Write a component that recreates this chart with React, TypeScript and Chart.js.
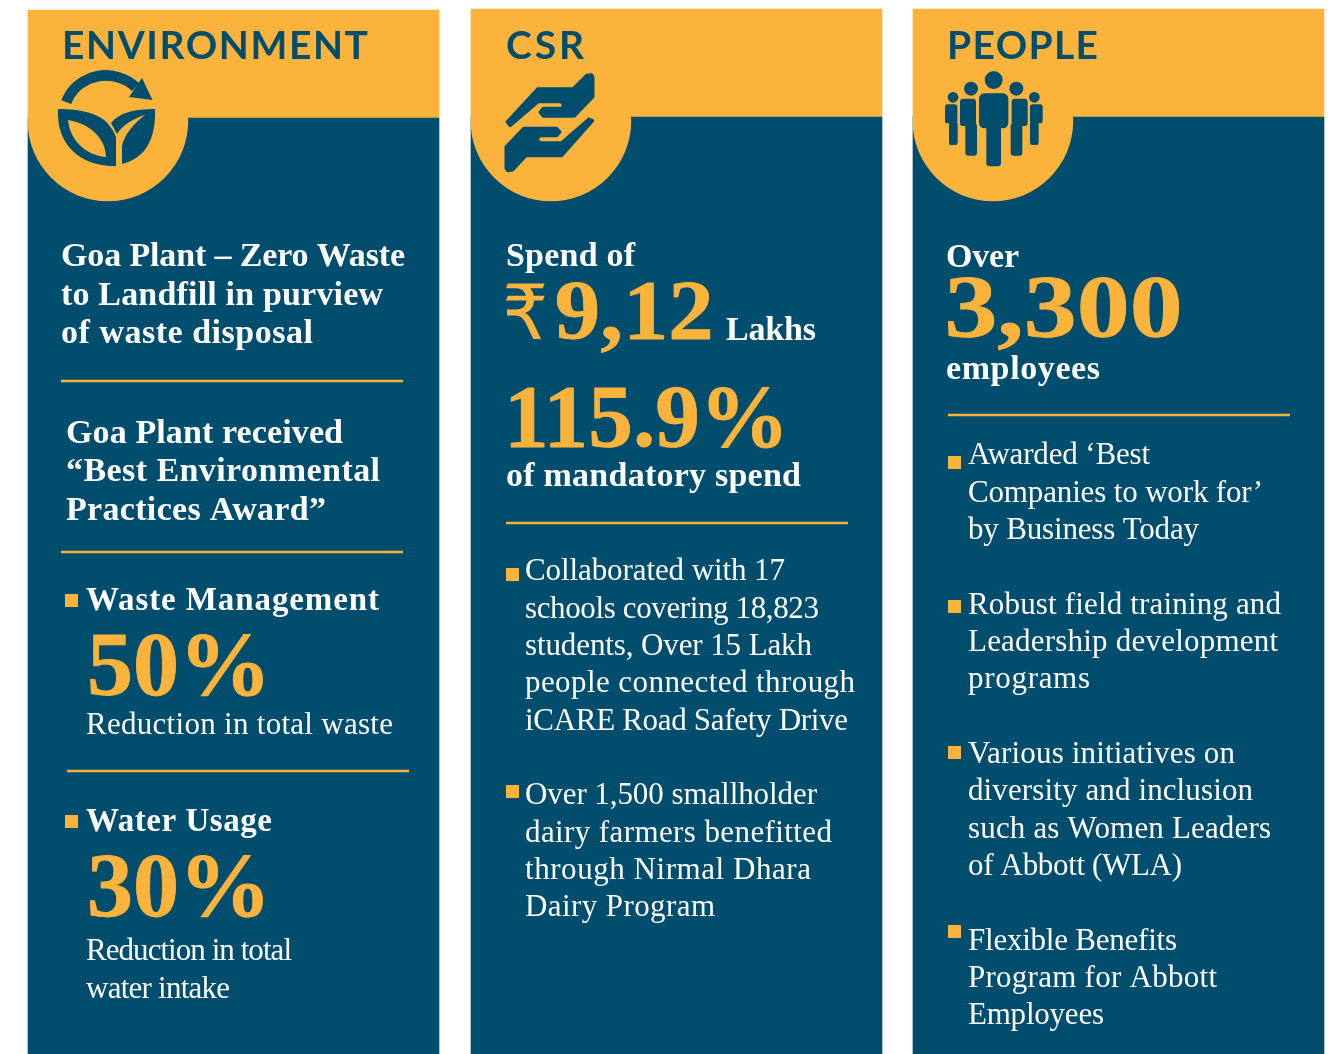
import React, { useEffect, useRef } from "react";
import { Chart, registerables } from "chart.js";

Chart.register(...registerables);

// ---------- data ----------
const pillars = ["ENVIRONMENT", "CSR", "PEOPLE"];
const bandTop = [10, 9, 9];
const bandBottom = [118, 117, 117];
const panelBottom = [1054, 1054, 1054];

const envHeadline = ["Goa Plant – Zero Waste", "to Landfill in purview", "of waste disposal"];
const envAward = ["Goa Plant received", "“Best Environmental", "Practices Award”"];
const envMetricLabels = ["Waste Management", "Water Usage"];
const envMetricValues = ["50%", "30%"];
const envMetricNotes = ["Reduction in total waste", "Reduction in total", "water intake"];

const csrIntro = ["Spend of", "₹", "9,12", "Lakhs", "115.9%", "of mandatory spend"];
const csrBullets = [
  "Collaborated with 17", "schools covering 18,823", "students, Over 15 Lakh", "people connected through", "iCARE Road Safety Drive",
  "Over 1,500 smallholder", "dairy farmers benefitted", "through Nirmal Dhara", "Dairy Program",
];

const peopleIntro = ["Over", "3,300", "employees"];
const peopleBullets = [
  "Awarded ‘Best", "Companies to work for’", "by Business Today",
  "Robust field training and", "Leadership development", "programs",
  "Various initiatives on", "diversity and inclusion", "such as Women Leaders", "of Abbott (WLA)",
  "Flexible Benefits", "Program for Abbott", "Employees",
];

// ---------- style ----------
const NAVY = "#004D6E";
const ORANGE = "#FBB33B";
const WHITE = "#FFFFFF";
const SERIF = '"Liberation Serif", serif';
const SANS = 'Lato, sans-serif';

function put(ctx: CanvasRenderingContext2D, text: string, x: number, base: number, right: number, font: string, color: string) {
  ctx.font = font;
  (ctx as any).letterSpacing = "0px";
  const w = ctx.measureText(text).width;
  const n = Math.max(1, text.length - 1);
  (ctx as any).letterSpacing = `${(right - x - w) / n}px`;
  ctx.fillStyle = color;
  ctx.textBaseline = "alphabetic";
  ctx.textAlign = "left";
  ctx.fillText(text, x, base);
  (ctx as any).letterSpacing = "0px";
}

// big figures: stretched horizontally to the target ink width
function fit(ctx: CanvasRenderingContext2D, text: string, x: number, base: number, right: number, font: string, color: string, heavy = 0.8) {
  ctx.font = font;
  (ctx as any).letterSpacing = "0px";
  ctx.textBaseline = "alphabetic";
  ctx.textAlign = "left";
  const m = ctx.measureText(text);
  const ink = m.actualBoundingBoxRight + m.actualBoundingBoxLeft;
  const sx = (right - x) / ink;
  ctx.save();
  ctx.translate(x + m.actualBoundingBoxLeft * sx, base);
  ctx.scale(sx, 1);
  ctx.fillStyle = color;
  ctx.fillText(text, 0, 0);
  if (heavy > 0) {
    ctx.strokeStyle = color;
    ctx.lineWidth = heavy;
    ctx.lineJoin = "round";
    ctx.strokeText(text, 0, 0);
  }
  ctx.restore();
}

function rule(ctx: CanvasRenderingContext2D, x0: number, x1: number, y: number) {
  ctx.fillStyle = ORANGE;
  ctx.fillRect(x0, y - 1.25, x1 - x0, 2.5);
}

function bullet(ctx: CanvasRenderingContext2D, x: number, y: number) {
  ctx.fillStyle = ORANGE;
  ctx.fillRect(x, y, 13, 13);
}

function poly(ctx: CanvasRenderingContext2D, ox: number, pts: number[][], lw: number) {
  ctx.beginPath();
  pts.forEach(([x, y], i) => {
    const px = ox + x / 3;
    const py = y / 3;
    if (i) ctx.lineTo(px, py);
    else ctx.moveTo(px, py);
  });
  ctx.closePath();
  ctx.lineJoin = "round";
  ctx.lineWidth = lw;
  ctx.strokeStyle = NAVY;
  ctx.fillStyle = NAVY;
  ctx.fill();
  ctx.stroke();
}

function envIcon(ctx: CanvasRenderingContext2D) {
  ctx.strokeStyle = NAVY;
  ctx.fillStyle = NAVY;
  ctx.lineWidth = 10.5;
  ctx.lineCap = "butt";
  ctx.beginPath();
  ctx.ellipse(106, 115, 42, 39.5, 0, (-161 * Math.PI) / 180, (-45 * Math.PI) / 180);
  ctx.stroke();
  ctx.beginPath();
  ctx.moveTo(152.5, 100);
  ctx.lineTo(142, 78);
  ctx.lineTo(129, 97);
  ctx.closePath();
  ctx.fill();

  const leaves = new Path2D();
  leaves.moveTo(58, 109);
  leaves.bezierCurveTo(80, 109, 100, 113, 109, 125);
  leaves.quadraticCurveTo(114, 131, 116, 137);
  leaves.lineTo(116, 166);
  leaves.bezierCurveTo(82, 167, 56, 146, 58, 109);
  leaves.closePath();
  leaves.moveTo(68, 120);
  leaves.bezierCurveTo(70, 140, 85, 155, 106, 157);
  leaves.bezierCurveTo(106, 140, 92, 124, 68, 120);
  leaves.closePath();
  ctx.fill(leaves, "evenodd");

  const right = new Path2D();
  right.moveTo(155, 109);
  right.bezierCurveTo(156, 140, 145, 158, 122, 164);
  right.lineTo(122, 146);
  right.bezierCurveTo(124, 135, 134, 123, 145, 115);
  right.bezierCurveTo(132, 119, 123, 125, 117, 134);
  right.lineTo(111, 123);
  right.bezierCurveTo(120, 112, 135, 109, 155, 109);
  right.closePath();
  ctx.fill(right);
}

function hands(ctx: CanvasRenderingContext2D) {
  const ox = 465;
  poly(ctx, ox, [[126, 366], [218, 266], [325, 266], [365, 226], [380, 224], [384, 232], [384, 290], [328, 349], [235, 349], [225, 337], [235, 325], [290, 325], [296, 315], [288, 305], [220, 305], [136, 377]], 3);
  poly(ctx, ox, [[383, 362], [290, 467], [183, 467], [143, 510], [128, 512], [123, 505], [123, 440], [176, 385], [275, 385], [285, 396], [275, 407], [225, 407], [215, 418], [225, 428], [290, 428], [372, 357]], 3);
}

function rr(ctx: CanvasRenderingContext2D, ox: number, x0: number, y0: number, x1: number, y1: number, r: number) {
  ctx.beginPath();
  ctx.roundRect(ox + x0 / 3, y0 / 3, (x1 - x0) / 3, (y1 - y0) / 3, r / 3);
  ctx.fill();
}

function dot(ctx: CanvasRenderingContext2D, ox: number, x: number, y: number, r: number) {
  ctx.beginPath();
  ctx.arc(ox + x / 3, y / 3, r / 3, 0, Math.PI * 2);
  ctx.fill();
}

function people(ctx: CanvasRenderingContext2D) {
  const ox = 905;
  ctx.fillStyle = NAVY;
  dot(ctx, ox, 266, 240, 27);
  rr(ctx, ox, 222, 280, 310, 385, 16);
  rr(ctx, ox, 244, 370, 288, 499, 10);
  dot(ctx, ox, 198, 266, 21);
  rr(ctx, ox, 165, 296, 213, 378, 10);
  rr(ctx, ox, 181, 370, 216, 467, 9);
  dot(ctx, ox, 334, 266, 21);
  rr(ctx, ox, 320, 296, 368, 378, 10);
  rr(ctx, ox, 317, 370, 352, 467, 9);
  dot(ctx, ox, 144, 292, 16);
  rr(ctx, ox, 120, 313, 157, 370, 8);
  rr(ctx, ox, 132, 365, 158, 435, 7);
  dot(ctx, ox, 388, 292, 16);
  rr(ctx, ox, 375, 313, 413, 370, 8);
  rr(ctx, ox, 375, 365, 401, 435, 7);
}

const decorations = {
  id: "decorations",
  // panels sit on whole pixels
  beforeDatasetsDraw(chart: any) {
    chart.data.datasets.forEach((_: any, d: number) => {
      chart.getDatasetMeta(d).data.forEach((el: any) => {
        el.x = Math.round(el.x - 205.5) + 205.5;
      });
    });
  },
  afterDatasetsDraw(chart: any) {
    const ctx: CanvasRenderingContext2D = chart.ctx;
    ctx.save();

    // circular tabs
    chart.getDatasetMeta(1).data.forEach((el: any) => {
      ctx.fillStyle = ORANGE;
      ctx.beginPath();
      ctx.arc(el.x - 125.6, 121, 80.3, 0, Math.PI * 2);
      ctx.fill();
    });

    // headers
    const h = `700 39px ${SANS}`;
    put(ctx, pillars[0], 62, 59, 368, h, NAVY);
    put(ctx, pillars[1], 506, 59, 584, h, NAVY);
    put(ctx, pillars[2], 947, 59, 1098, h, NAVY);

    envIcon(ctx);
    hands(ctx);
    people(ctx);

    const head = `700 34px ${SERIF}`;
    const sub = `700 33px ${SERIF}`;
    const body = `400 31px ${SERIF}`;

    // ENVIRONMENT
    put(ctx, envHeadline[0], 61, 266, 405, head, WHITE);
    put(ctx, envHeadline[1], 61, 305, 383, head, WHITE);
    put(ctx, envHeadline[2], 61, 343, 313, head, WHITE);
    rule(ctx, 61, 403, 381);
    put(ctx, envAward[0], 66, 443, 343, head, WHITE);
    put(ctx, envAward[1], 66, 481, 380, head, WHITE);
    put(ctx, envAward[2], 66, 520, 326, head, WHITE);
    rule(ctx, 61, 403, 552);
    bullet(ctx, 65, 594);
    put(ctx, envMetricLabels[0], 86, 610, 379, sub, WHITE);
    fit(ctx, envMetricValues[0], 90, 695, 263, `700 90px ${SERIF}`, ORANGE);
    put(ctx, envMetricNotes[0], 86, 734, 393, body, WHITE);
    rule(ctx, 67, 409, 771);
    bullet(ctx, 65, 815);
    put(ctx, envMetricLabels[1], 86, 831, 272, sub, WHITE);
    fit(ctx, envMetricValues[1], 90, 916, 263, `700 90px ${SERIF}`, ORANGE);
    put(ctx, envMetricNotes[1], 86, 960, 292, body, WHITE);
    put(ctx, envMetricNotes[2], 86, 998, 230, body, WHITE);

    // CSR
    put(ctx, csrIntro[0], 506, 266, 635, head, WHITE);
    fit(ctx, csrIntro[1], 505, 339, 545, `400 76px "DejaVu Sans", sans-serif`, ORANGE, 0);
    fit(ctx, csrIntro[2], 557, 339, 710, `700 85px ${SERIF}`, ORANGE);
    put(ctx, csrIntro[3], 726, 340, 816, head, WHITE);
    fit(ctx, csrIntro[4], 511, 446, 781, `700 88px ${SERIF}`, ORANGE);
    put(ctx, csrIntro[5], 506, 486, 801, head, WHITE);
    rule(ctx, 506, 848, 523);
    const csrLines: number[][] = [
      [580, 785], [618, 819], [655, 812], [692, 855], [730, 848],
      [804, 817], [842, 832], [879, 811], [916, 715],
    ];
    csrBullets.forEach((t, i) => put(ctx, t, 525, csrLines[i][0], csrLines[i][1], body, WHITE));
    bullet(ctx, 506, 568);
    bullet(ctx, 506, 785);

    // PEOPLE
    put(ctx, peopleIntro[0], 946, 267, 1019, head, WHITE);
    fit(ctx, peopleIntro[1], 948, 336, 1179, `700 88px ${SERIF}`, ORANGE);
    put(ctx, peopleIntro[2], 946, 379, 1100, head, WHITE);
    rule(ctx, 948, 1290, 415);
    const peopleLines: number[][] = [
      [464, 1150], [502, 1263], [539, 1199],
      [614, 1281], [651, 1278], [688, 1090],
      [763, 1235], [800, 1253], [838, 1271], [875, 1182],
      [950, 1177], [987, 1217], [1024, 1104],
    ];
    peopleBullets.forEach((t, i) => put(ctx, t, 968, peopleLines[i][0], peopleLines[i][1], body, WHITE));
    bullet(ctx, 948, 456);
    bullet(ctx, 948, 600);
    bullet(ctx, 948, 746);
    bullet(ctx, 948, 925);

    ctx.restore();
  },
};

export default function App() {
  const ref = useRef<HTMLCanvasElement>(null);
  useEffect(() => {
    if (!ref.current) return;
    const chart = new Chart(ref.current, {
      type: "bar",
      data: {
        labels: pillars,
        datasets: [
          {
            label: "Panel",
            data: bandBottom.map((b, i) => [b, panelBottom[i]]) as any,
            backgroundColor: NAVY,
            barThickness: 411,
            borderWidth: 0,
          },
          {
            label: "Band",
            data: bandTop.map((t, i) => [t, bandBottom[i]]) as any,
            backgroundColor: ORANGE,
            barThickness: 411,
            borderWidth: 0,
          },
        ],
      },
      options: {
        animation: false,
        responsive: false,
        events: [],
        layout: { padding: { left: 12.25, right: 0.25, top: 0, bottom: 0 } },
        datasets: { bar: { grouped: false } },
        plugins: { legend: { display: false }, tooltip: { enabled: false }, title: { display: false } },
        scales: {
          x: { display: false, grid: { display: false } },
          y: { display: false, reverse: true, min: 0, max: 1054, grid: { display: false } },
        },
      } as any,
      plugins: [decorations],
    });
    return () => chart.destroy();
  }, []);
  return (
    <div style={{ position: "absolute", left: 0, top: 0, width: 1338, height: 1054, overflow: "hidden", background: "#fff" }}>
      <canvas ref={ref} width={1340} height={1054} style={{ display: "block" }} />
    </div>
  );
}
